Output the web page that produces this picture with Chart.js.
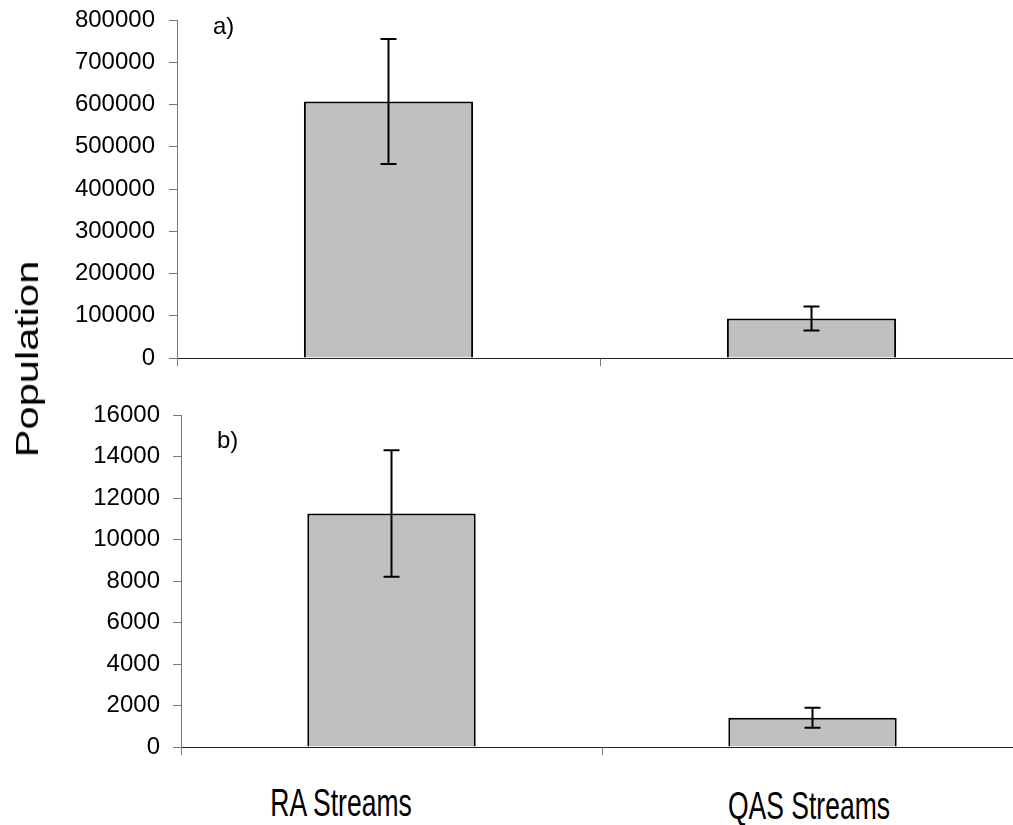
<!DOCTYPE html>
<html>
<head>
<meta charset="utf-8">
<script src="https://cdn.jsdelivr.net/npm/chart.js@4.4.1/dist/chart.umd.min.js"></script>
<style>
  html, body { margin: 0; padding: 0; background: #fff; overflow: hidden; }
  body { width: 1013px; height: 825px; position: relative; font-family: "Liberation Sans", Arial, sans-serif; }
  canvas { position: absolute; left: 0; }
  .txt { position: absolute; white-space: nowrap; line-height: 1; color: #000; }
</style>
</head>
<body>
<canvas id="chartA" width="1030" height="380" style="top:0px"></canvas>
<canvas id="chartB" width="1030" height="375" style="top:395px"></canvas>

<div class="txt" style="left:27px; top:359px; font-size:32px; transform: translate(-50%,-50%) rotate(-90deg) scaleX(1.3);">Population</div>
<div class="txt" style="left:213px; top:14px; font-size:24px;">a)</div>
<div class="txt" style="left:217px; top:428px; font-size:24px;">b)</div>
<div class="txt" style="left:341px; top:783px; font-size:39px; transform: translateX(-50%) scaleX(0.68);">RA Streams</div>
<div class="txt" style="left:809px; top:786px; font-size:39px; transform: translateX(-50%) scaleX(0.68);">QAS Streams</div>

<script>
// data
const categories = ['RA Streams', 'QAS Streams'];

// a) top panel
const popA = [607000, 93700];
const errA = [148000, 28400];
const ticksA = [0, 100000, 200000, 300000, 400000, 500000, 600000, 700000, 800000];

// b) bottom panel
const popB = [11250, 1410];
const errB = [3050, 480];
const ticksB = [0, 2000, 4000, 6000, 8000, 10000, 12000, 14000, 16000];

const font = { family: '"Liberation Sans", Arial, sans-serif', size: 24 };

// draw the +/- error bars with the chart's own y scale
const errorBars = {
  id: 'errorBars',
  afterDatasetsDraw(chart, args, opts) {
    const ctx = chart.ctx;
    const y = chart.scales.y;
    const meta = chart.getDatasetMeta(0);
    const vals = chart.data.datasets[0].data;
    ctx.save();
    ctx.strokeStyle = '#000';
    ctx.lineWidth = 2;
    meta.data.forEach((bar, i) => {
      const top = y.getPixelForValue(vals[i] + opts.errors[i]);
      const bot = y.getPixelForValue(vals[i] - opts.errors[i]);
      const x = bar.x;
      ctx.beginPath();
      ctx.moveTo(x, top); ctx.lineTo(x, bot);
      ctx.moveTo(x - 8, top); ctx.lineTo(x + 8, top);
      ctx.moveTo(x - 8, bot); ctx.lineTo(x + 8, bot);
      ctx.stroke();
    });
    ctx.restore();
  }
};

function makeChart(id, values, errors, tickVals, axisWidth, xHeight, pad) {
  return new Chart(document.getElementById(id), {
    type: 'bar',
    data: {
      labels: categories,
      datasets: [{
        data: values,
        backgroundColor: '#c0c0c0',
        borderColor: '#000',
        borderWidth: 2,
        barPercentage: 0.4,
        categoryPercentage: 1.0
      }]
    },
    options: {
      responsive: false,
      animation: false,
      devicePixelRatio: 1,
      layout: { padding: { top: 20, right: 7, left: 0, bottom: 0 } },
      plugins: {
        legend: { display: false },
        tooltip: { enabled: false },
        errorBars: { errors: errors }
      },
      scales: {
        x: {
          ticks: { display: false },
          grid: { drawOnChartArea: false, tickLength: 8, color: '#777' },
          border: { color: '#222', width: 1 },
          afterFit: (s) => { s.height = xHeight; }
        },
        y: {
          min: tickVals[0],
          max: tickVals[tickVals.length - 1],
          afterBuildTicks: (s) => { s.ticks = tickVals.map(v => ({ value: v })); },
          ticks: {
            color: '#000',
            font: font,
            padding: pad,
            callback: (v) => String(v)
          },
          grid: { drawOnChartArea: false, tickLength: 8, color: '#777' },
          border: { color: '#777', width: 1 },
          afterFit: (s) => {
            s.width = axisWidth;
            s.paddingTop = 0;
            s.paddingBottom = 0;
          }
        }
      }
    },
    plugins: [errorBars]
  });
}

const chartA = makeChart('chartA', popA, errA, ticksA, 177, 22, 14);
const chartB = makeChart('chartB', popB, errB, ticksB, 181, 23, 13);
</script>
</body>
</html>
